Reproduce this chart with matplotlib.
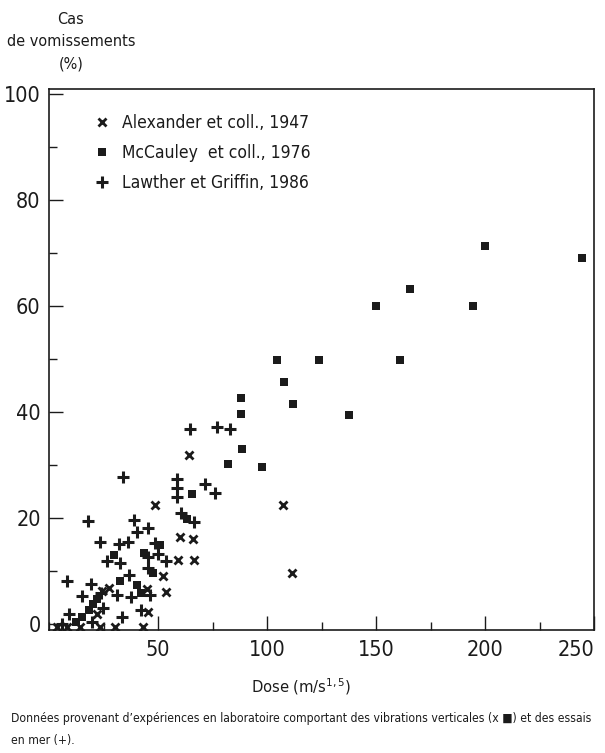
import matplotlib
matplotlib.use("Agg")
import matplotlib.pyplot as plt
from matplotlib.ticker import MultipleLocator

plt.rcParams['font.family'] = ['DejaVu Sans']
plt.rcParams['font.stretch'] = 'condensed'
plt.rcParams['mathtext.default'] = 'regular'

INK = '#1b1b1b'

# --- data ---
alex_x = [107.2, 111.6, 64.4, 48.6, 60.2, 65.9, 59.3, 66.4, 52.4, 45.0, 53.8, 45.6,
          27.7, 24.2, 21.9, 3.5, 8.1, 14.2, 23.4, 30.3, 43.3]
alex_y = [22.5, 9.6, 31.9, 22.5, 16.4, 16.0, 12.2, 12.2, 9.1, 6.7, 6.0, 2.3,
          6.9, 6.3, 2.0, -0.6, -0.6, -0.6, -0.6, -0.6, -0.6]

mcc_x = [244.5, 200.0, 165.6, 150.0, 194.5, 161.0, 137.6, 123.9, 104.6, 107.8, 111.9,
         88.1, 88.1, 88.7, 82.0, 97.8, 65.4, 63.4, 50.8, 43.4, 47.7, 40.4, 42.2,
         29.8, 32.6, 21.9, 20.3, 18.5, 15.0, 12.4]
mcc_y = [69.2, 71.3, 63.2, 60.0, 60.0, 49.8, 39.4, 49.8, 49.8, 45.8, 41.5,
         42.6, 39.6, 33.0, 30.3, 29.6, 24.5, 19.8, 14.9, 13.5, 9.7, 7.4, 5.9,
         13.0, 8.2, 4.8, 3.9, 2.6, 1.4, 0.5]

law_x = [64.7, 77.0, 83.0, 34.1, 58.6, 58.6, 58.6, 71.6, 76.1, 60.6, 66.4, 18.0,
         39.1, 40.2, 45.6, 36.4, 23.4, 32.3, 48.6, 45.6, 49.9, 53.5, 26.5, 32.6,
         45.3, 36.7, 8.1, 19.1, 37.6, 46.3, 31.1, 23.7, 15.0, 42.2, 9.3, 33.3,
         24.9, 19.6, 5.8]
law_y = [36.9, 37.2, 36.8, 27.8, 27.4, 25.7, 24.0, 26.5, 24.8, 20.9, 19.2, 19.5,
         19.6, 17.4, 18.2, 15.5, 15.5, 15.2, 15.3, 12.7, 13.3, 11.9, 11.9, 11.5,
         10.7, 9.2, 8.2, 7.5, 5.2, 5.5, 5.5, 5.8, 5.3, 2.6, 2.0, 1.4,
         3.0, 0.4, 0.1]

labels = ['Alexander et coll., 1947', 'McCauley  et coll., 1976', 'Lawther et Griffin, 1986']
x_ticks = [50, 100, 150, 200, 250]
y_ticks = [0, 20, 40, 60, 80, 100]

fig = plt.figure(figsize=(6.05, 7.53), dpi=100)
ax = fig.add_axes([0.081, 0.1633, 0.901, 0.7185])

ax.plot(alex_x, alex_y, ls='none', marker='x', ms=6.2, mew=2.0, color=INK, label=labels[0])
ax.plot(mcc_x, mcc_y, ls='none', marker='s', ms=6.0, mew=0, color=INK, label=labels[1])
ax.plot(law_x, law_y, ls='none', marker='+', ms=8.0, mew=2.2, color=INK, label=labels[2])

ax.set_xlim(0, 250)
ax.set_ylim(-1.1, 101)
ax.set_xticks(x_ticks)
ax.set_yticks(y_ticks)
ax.xaxis.set_minor_locator(MultipleLocator(25))
ax.yaxis.set_minor_locator(MultipleLocator(10))
ax.tick_params(which='major', direction='in', length=10, width=1.0, color=INK,
               labelsize=15.5, labelcolor=INK)
ax.tick_params(which='minor', direction='in', length=6, width=1.0, color=INK)
ax.tick_params(axis='x', which='major', pad=7)
ax.tick_params(axis='y', which='major', pad=6)
for s in ax.spines.values():
    s.set_linewidth(1.2)
    s.set_color(INK)
xl = ax.get_xticklabels()
xl[-1].set_horizontalalignment('right')

ax.set_xlabel('Dose (m/s$^{1,5}$)', fontsize=11.8, color=INK, labelpad=12, x=0.463)

leg = ax.legend(loc='upper left', bbox_to_anchor=(0.072, 0.966), frameon=False,
                fontsize=12.5, handlelength=0.8, handletextpad=0.75, labelspacing=0.68,
                borderaxespad=0)
for t in leg.get_texts():
    t.set_color(INK)

fig.text(0.117, 0.984, 'Cas\nde vomissements\n(%)', ha='center', va='top',
         fontsize=11.6, color=INK, linespacing=1.6)

fig.text(0.019, 0.055, 'Données provenant d’expériences en laboratoire comportant des vibrations verticales (x ■) et des essais\nen mer (+).',
         ha='left', va='top', fontsize=8.75, color=INK, linespacing=1.95)

fig.savefig('out.png', dpi=100)
